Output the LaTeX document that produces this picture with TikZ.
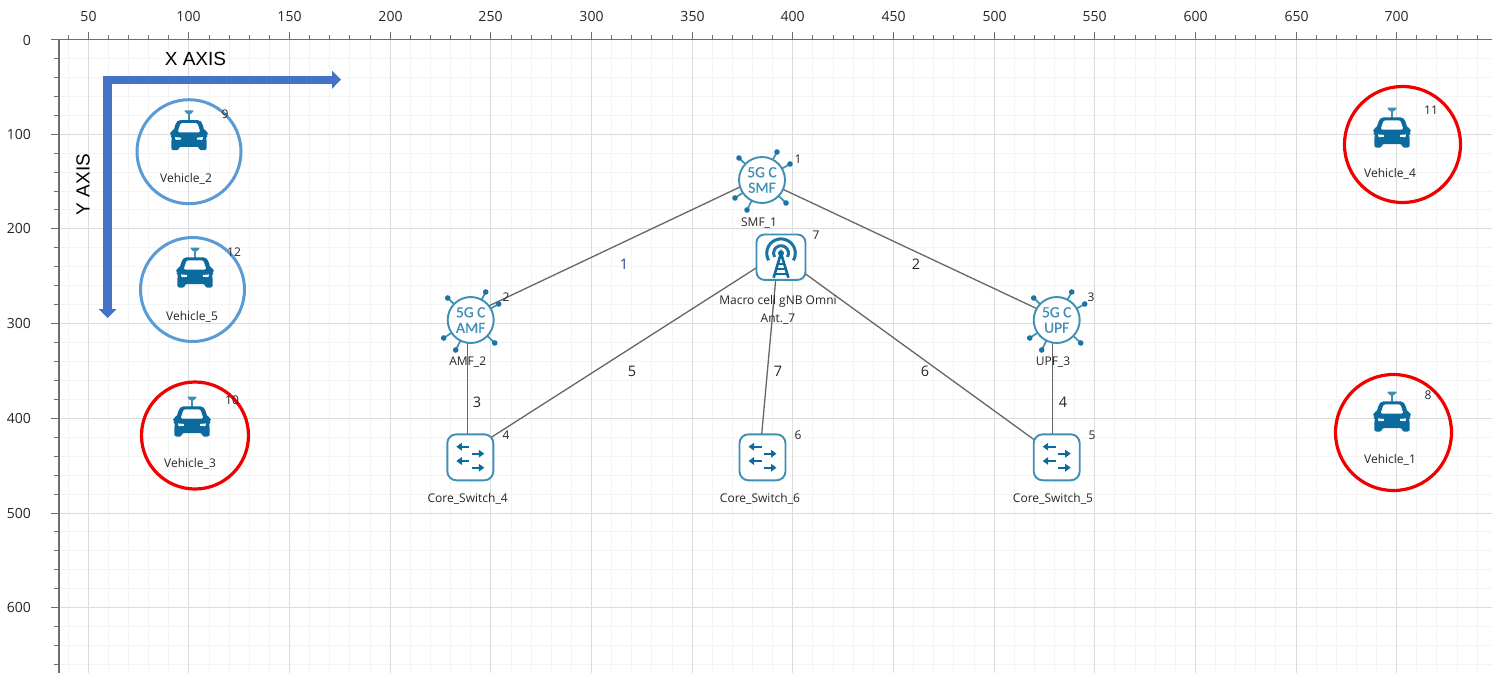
\documentclass[tikz,border=0pt]{standalone}
\usepackage{fontspec}
\setmainfont{Open Sans}
\newfontfamily\arialfont{Liberation Sans}
\newfontfamily\corefont[FakeBold=0.6]{Carlito}
\usetikzlibrary{arrows.meta}
\definecolor{iconblue}{HTML}{0B6A9E}
\definecolor{towerblue}{HTML}{1B74A4}
\definecolor{ringblue}{HTML}{3F8FB5}
\definecolor{gridmajor}{HTML}{DCDCDC}
\definecolor{gridminor}{HTML}{F4F4F4}
\definecolor{axisgrey}{HTML}{6E6E6E}
\definecolor{linkgrey}{HTML}{666666}
\definecolor{txt}{HTML}{262626}
\definecolor{bigblue}{HTML}{4472C4}
\definecolor{circblue}{HTML}{5B9BD5}
\definecolor{circred}{HTML}{F00000}
\definecolor{linkblue}{HTML}{1F4590}
\tikzset{
  x=1pt,y=-1pt,
  gmaj/.style={draw=gridmajor,line width=1.2pt},
  gmin/.style={draw=gridminor,line width=1pt},
  tick/.style={draw=axisgrey,line width=1pt},
  axlab/.style={font=\fontsize{14}{15}\selectfont,text=txt,inner sep=0pt},
  lab/.style={font=\fontsize{12}{18}\selectfont,text=txt,inner sep=0pt,align=center},
  num/.style={font=\fontsize{12}{13}\selectfont,text=txt,inner sep=0pt},
  linklab/.style={font=\fontsize{14.5}{15}\selectfont,text=txt,inner sep=0pt},
  hub/.style={inner sep=0pt,minimum size=0pt,shape=coordinate},
  link/.style={draw=linkgrey,line width=1.3pt},
  ringblue1/.style={draw=circblue,line width=3pt},
  ringred1/.style={draw=circred,line width=3.2pt},
  bigarrow/.style={draw=bigblue,line width=8.4pt,miter limit=10,
    {Triangle[length=9pt,width=17.6pt]}-{Triangle[length=9pt,width=17.6pt]}},
  bigtitle/.style={font=\arialfont\fontsize{19}{20}\selectfont,text=black,inner sep=0pt},
  coretext/.style={font=\corefont\fontsize{15.5}{15.5}\selectfont,text=ringblue,align=center,inner sep=0pt},
  car/.pic={
    \fill[ringblue,rounded corners=1pt] (-5.2,-0.3) -- (5.2,-0.3) -- (1.6,3.6) -- (-1.6,3.6) -- cycle;
    \fill[ringblue] (-1.3,3) rectangle (1.3,10);
    \fill[iconblue,rounded corners=2pt] (-10.5,9.3) -- (10.5,9.3) -- (13,12) -- (15.5,20.3) -- (19,20.6) -- (19,24.6) -- (16.8,25.2) -- (17.6,29) -- (17.6,39.5) -- (10.2,39.5) -- (10.2,36.2) -- (-10.2,36.2) -- (-10.2,39.5) -- (-17.6,39.5) -- (-17.6,29) -- (-16.8,25.2) -- (-19,24.6) -- (-19,20.6) -- (-15.5,20.3) -- (-13,12) -- cycle;
    \fill[white,rounded corners=1.5pt] (-8.3,12.3) -- (8.3,12.3) -- (11.4,21.6) -- (-11.4,21.6) -- cycle;
    \fill[white] (14,26.4) -- (13.4,29.2) -- (8.2,28.8) -- (7.8,27) -- cycle;
    \fill[white] (-14,26.4) -- (-13.4,29.2) -- (-8.2,28.8) -- (-7.8,27) -- cycle;
  },
  spoke/.style={draw=ringblue,line width=1.7pt},
  core/.pic={
    \foreach \sx/\sy in {15/-28,28/-16,24/23,-15/30,-27/18,-23/-22}{
      \draw[spoke] (0,0) -- (\sx,\sy);
      \fill[towerblue] (\sx,\sy) circle[radius=2.8];
    }
    \draw[draw=ringblue,fill=white,line width=1.9pt] (0,0) circle[radius=23];
  },
  switchicon/.pic={
    \draw[draw=ringblue,fill=white,line width=1.9pt,rounded corners=9pt] (-23,-23) rectangle (23,23);
    \foreach \xa/\xb/\yy in {-1/-14/-10.6,1.4/14/-3.6,-1/-14/3.7,1.4/14/10.4}{
      \draw[draw=iconblue,line width=2pt,-{Triangle[length=5.5pt,width=7.5pt]}] (\xa,\yy) -- (\xb,\yy);
    }
  },
  towericon/.pic={
    \draw[draw=ringblue,fill=white,line width=1.9pt,rounded corners=8pt] (-24.5,-22.7) rectangle (24.5,22.7);
    \begin{scope}[shift={(0,-4)}]
      \draw[draw=towerblue,line width=3pt] (0,0) ++(30:14.3) arc[start angle=30,end angle=-210,radius=14.3];
      \draw[draw=towerblue,line width=3pt] (0,0) ++(30:7.5) arc[start angle=30,end angle=-210,radius=7.5];
      \fill[iconblue] (0,0) circle[radius=3];
      \draw[draw=iconblue,line width=2.6pt] (-7.4,24.5) -- (0,0) -- (7.4,24.5);
      \draw[draw=iconblue,line width=2pt] (-4,10.5) -- (4,10.5) (-5,16) -- (5,16) (-6.5,21) -- (6.5,21);
    \end{scope}
  },
}
\begin{document}
\begin{tikzpicture}
\useasboundingbox (0,0) rectangle (1492,673);
\fill[white] (0,0) rectangle (1492,673);
% minor grid
\foreach \i in {0,...,71}{
  \pgfmathsetmacro{\gx}{floor(68.15+20.13*\i)+0.5}
  \draw[gmin] (\gx,39.5) -- (\gx,673);
  \draw[tick] (\gx,35) -- (\gx,39.5);
}
\foreach \i in {1,...,33}{
  \pgfmathsetmacro{\gy}{floor(39.5+18.94*\i)+0.5}
  \draw[gmin] (59,\gy) -- (1492,\gy);
  \draw[tick] (54,\gy) -- (59,\gy);
}
% major grid and tick labels
\foreach \v in {50,100,...,700}{
  \pgfmathsetmacro{\gx}{floor(88.3+(\v-50)*2.013)+0.5}
  \draw[gmaj] (\gx,39.5) -- (\gx,673);
  \draw[tick] (\gx,32) -- (\gx,39.5);
  \node[axlab] (xl\v) at (\gx,16) {\v};
}
\foreach \v in {100,200,...,600}{
  \pgfmathsetmacro{\gy}{floor(39.5+\v*0.947)+0.5}
  \draw[gmaj] (59,\gy) -- (1492,\gy);
  \draw[tick] (51,\gy) -- (59,\gy);
  \node[axlab,anchor=east] (yl\v) at (31,\gy) {\v};
}
\node[axlab,anchor=east] (yl0) at (31,40) {0};
\draw[tick] (51,39.5) -- (1492,39.5);
\draw[draw=axisgrey,line width=1.6pt] (59,39.5) -- (59,673);
% big axis arrows
\draw[bigarrow] (107.6,318) -- (107.6,79.7) -- (341,79.7);
\node[bigtitle] (xaxis) at (195.5,59) {X AXIS};
\node[bigtitle,rotate=90] (yaxis) at (83,184.5) {Y AXIS};
% connection points
\node[hub] (smf) at (759,178) {};
\node[hub] (amf) at (467.5,316) {};
\node[hub] (upf) at (1052.5,316) {};
\node[hub] (gnb) at (778,254) {};
\node[hub] (sw4) at (467.5,452.5) {};
\node[hub] (sw6) at (760,453) {};
\node[hub] (sw5) at (1052.5,453) {};
\draw[link] (smf) -- (amf);
\draw[link] (smf) -- (upf);
\draw[link] (amf) -- (sw4);
\draw[link] (upf) -- (sw5);
\draw[link] (gnb) -- (sw4);
\draw[link] (gnb) -- (sw5);
\draw[link] (gnb) -- (sw6);
% icons
\pic at (762,180) {core};
\pic at (470.7,320) {core};
\pic at (1056.7,320) {core};
\pic at (781,257.2) {towericon};
\pic at (470.3,457.3) {switchicon};
\pic at (762.5,457.3) {switchicon};
\pic at (1056.7,457.3) {switchicon};
\node[coretext] (t1) at (762,180) {5G C\\SMF};
\node[coretext] (t2) at (470.7,320) {5G C\\AMF};
\node[coretext] (t3) at (1056.7,320) {5G C\\UPF};
% vehicles
\pic at (189,110.7) {car};
\pic at (195,248) {car};
\pic at (192,397) {car};
\pic at (1392,108) {car};
\pic at (1392,392) {car};
\draw[ringblue1] (189,151.7) circle[radius=52];
\draw[ringblue1] (192.5,289.5) circle[radius=52];
\draw[ringred1] (195,435.5) circle[radius=53.5];
\draw[ringred1] (1402.5,144.5) circle[radius=58];
\draw[ringred1] (1393.5,432.5) circle[radius=58];
% labels
\node[lab] (l1) at (759,223.5) {SMF\_1};
\node[lab] (l2) at (467.7,362) {AMF\_2};
\node[lab] (l3) at (1053,362) {UPF\_3};
\node[lab] (l7) at (778,309.5) {Macro cell gNB Omni\\Ant.\_7};
\node[lab] (l4) at (467.7,499) {Core\_Switch\_4};
\node[lab] (l6) at (760,499) {Core\_Switch\_6};
\node[lab] (l5) at (1053,499) {Core\_Switch\_5};
\node[lab] (v2) at (186,178.5) {Vehicle\_2};
\node[lab] (v5) at (192,317) {Vehicle\_5};
\node[lab] (v3) at (190,463.7) {Vehicle\_3};
\node[lab] (v4) at (1390,174) {Vehicle\_4};
\node[lab] (v1) at (1390,460) {Vehicle\_1};
% device numbers
\node[num] (n1) at (798,159) {1};
\node[num] (n2) at (506,297) {2};
\node[num] (n3) at (1091,297) {3};
\node[num] (n4) at (506,435) {4};
\node[num] (n5) at (1092,435) {5};
\node[num] (n6) at (798,435) {6};
\node[num] (n7) at (816,235) {7};
\node[num] (n8) at (1428,395) {8};
\node[num] (n9) at (225,114) {9};
\node[num] (n10) at (232,400) {10};
\node[num] (n11) at (1431,110) {11};
\node[num] (n12) at (234,252) {12};
% link numbers
\node[linklab,text=linkblue] (k1) at (624,264) {1};
\node[linklab] (k2) at (916,264) {2};
\node[linklab] (k3) at (477,402) {3};
\node[linklab] (k4) at (1063,402) {4};
\node[linklab] (k5) at (632,371) {5};
\node[linklab] (k6) at (925,371) {6};
\node[linklab] (k7) at (778,371) {7};
\end{tikzpicture}
\end{document}
